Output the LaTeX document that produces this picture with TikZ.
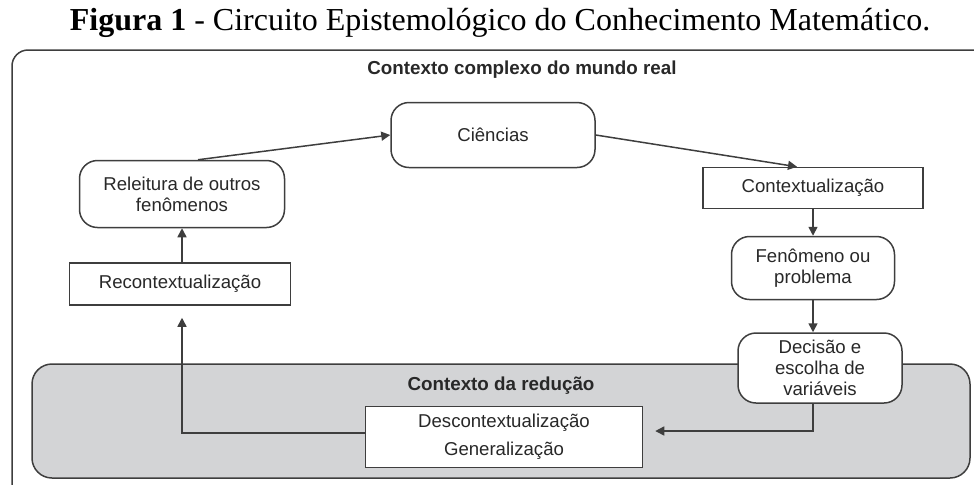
\documentclass[tikz,border=0pt]{standalone}
\usepackage{fontspec}
\usepackage{xcolor}
\usepackage{tikz}
\setmainfont{Liberation Sans}
\newfontfamily\titlefont{Liberation Serif}
\definecolor{linegray}{RGB}{62, 62, 62}
\definecolor{textgray}{RGB}{40, 40, 40}
\definecolor{reduction}{RGB}{211, 212, 214}
\usetikzlibrary{arrows.meta, positioning, calc}

\begin{document}
\begin{tikzpicture}[
        x=0.5pt, y=-0.5pt,
        flowarrow/.style={-{Triangle[length=4.5pt, width=4.5pt]}, line width=0.75pt, linegray},
        boxnode/.style={draw=linegray, line width=0.75pt, fill=white, align=center, text=textgray, inner sep=0pt, font=\fontsize{9.3}{10.5}\selectfont},
        roundnode/.style={boxnode, rectangle, rounded corners=9pt},
        rectnode/.style={boxnode, rectangle},
        contextlabel/.style={font=\fontsize{9.4}{11}\selectfont\bfseries, text=textgray}
    ]
        \useasboundingbox (0,0) rectangle (974,484);

        % Title
        \node[font=\titlefont\fontsize{16}{18}\selectfont, text=black] (title) at (500,23)
            {\textbf{Figura 1} - Circuito Epistemológico do Conhecimento Matemático.};

        % Contexts
        \draw[linegray, line width=0.75pt, rounded corners=8pt] (12,50) rectangle (990,500);
        \draw[linegray, line width=0.75pt, fill=reduction, rounded corners=10pt] (32,364) rectangle (970,478);
        \node[contextlabel] (real) at (522,70) {Contexto complexo do mundo real};
        \node[contextlabel] (red) at (501,386) {Contexto da redução};

        % Circuit nodes
        \node[roundnode, minimum width=102pt, minimum height=32.5pt] (cie) at (493,135) {Ciências};
        \node[rectnode, minimum width=110pt, minimum height=20.5pt] (ctx) at (813,188) {Contextualização};
        \node[roundnode, minimum width=81.5pt, minimum height=31.5pt] (fen) at (813,268) {Fenômeno ou\\problema};
        \node[roundnode, minimum width=82pt, minimum height=35pt] (dec) at (820,368) {Decisão e\\escolha de\\variáveis};
        \node[rectnode, minimum width=138.5pt, minimum height=30.5pt] (desc) at (504,437) {Descontextualização\\[3.5pt]Generalização};
        \node[rectnode, minimum width=110.5pt, minimum height=21pt] (rec) at (180,284) {Recontextualização};
        \node[roundnode, minimum width=102.5pt, minimum height=33.5pt] (rel) at (182,194) {Releitura de outros\\fenômenos};

        % Arrows
        \draw[flowarrow] (cie.east) -- ([xshift=-8pt]ctx.north);
        \draw[flowarrow] (ctx.south) -- (fen.north);
        \draw[flowarrow] (fen.south) -- (fen.south |- dec.north);
        \draw[flowarrow] (fen.south |- dec.south) |- ([xshift=6pt, yshift=3pt]desc.east);
        \draw[flowarrow] ([yshift=2pt]desc.west) -| ([xshift=1pt, yshift=-6pt]rec.south);
        \draw[flowarrow] (rel.south |- rec.north) -- (rel.south);
        \draw[flowarrow] ([xshift=8pt]rel.north) -- (cie.west);
    \end{tikzpicture}
\end{document}
